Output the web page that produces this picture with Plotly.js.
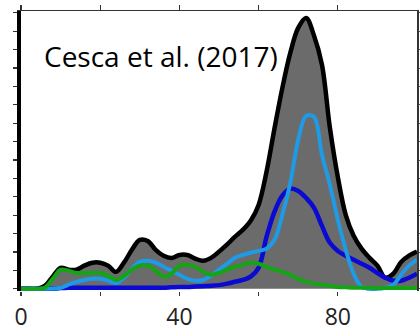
<!DOCTYPE html>
<html>
<head>
<meta charset="utf-8">
<script src="https://cdn.plot.ly/plotly-3.0.1.min.js"></script>
<style>
  html, body { margin: 0; padding: 0; background: #fff; }
  #chart { width: 420px; height: 331px; }
</style>
</head>
<body>
<div id="chart"></div>
<script>
// Sample positions along the horizontal axis
const xs = [0,2,4,6,8,10,12,14,16,18,20,22,24,26,28,30,32,34,36,38,40,42,44,46,48,50,
            52,54,56,58,60,62,64,66,68,70,72,74,76,78,80,82,84,86,88,90,92,94,96,98,100];

// Total (grey filled envelope)
const total = [0,0,0,0.8,3.3,5.7,5.2,5.2,6.3,7.1,7.1,6.3,4.6,7.1,10.6,13.3,13.0,10.6,9.0,8.4,9.2,9.2,8.2,7.6,8.4,10.1,
               12.0,14.1,16.0,18.5,22.8,31.8,43.5,54.6,64.1,70.9,73.6,68.8,60.9,43.8,30.4,20.1,14.4,10.9,8.4,6.3,3.0,4.1,7.3,9.0,10.1];

// Light blue component
const lightBlue = [0,0,0,0,0,0.3,1.1,1.9,2.4,2.7,2.7,2.2,1.6,3.0,5.4,7.3,7.6,7.1,6.0,4.9,3.8,2.7,2.2,2.4,3.5,5.2,
                   6.8,8.4,9.2,9.8,10.3,10.9,13.3,20.1,28.8,40.5,47.0,46.7,36.4,28.3,18.8,10.6,4.1,0.5,0,0,0.3,1.1,3.8,6.3,7.9];

// Dark blue component
const darkBlue = [0,0,0,0,0,0.2,0.3,0.3,0.3,0.3,0.3,0.3,0.3,0.3,0.3,0.3,0.3,0.3,0.3,0.4,0.5,0.5,0.6,0.7,0.8,1.0,
                  1.4,1.9,2.4,3.3,5.7,14.1,20.9,25.3,27.2,26.6,24.7,22.0,17.1,12.5,10.3,9.0,7.9,6.8,5.7,4.3,3.0,2.2,2.2,3.0,4.1];

// Green component
const green = [0,0,0,0.3,2.7,5.2,4.9,4.3,4.3,4.3,4.3,3.5,2.4,3.5,5.2,6.3,6.3,4.9,3.3,4.1,6.3,6.5,6.0,4.6,3.8,4.3,
               5.2,6.0,6.5,7.1,6.8,6.0,5.2,4.6,3.8,2.7,1.9,1.4,1.1,0.8,0.5,0.4,0.3,0.3,0.3,0.2,0.2,0.2,0.2,0.2,0.2];

const xTicks = [0,20,40,60,80];
const xTickText = ['0','','40','','80'];
const yRange = [-0.6, 75.5];

const traces = [
  { x: xs, y: total, type: 'scatter', mode: 'lines', fill: 'tozeroy',
    fillcolor: '#6b6b6b', line: { color: '#000000', width: 4.5, shape: 'spline', smoothing: 1 },
    hoverinfo: 'skip' },
  { x: xs, y: darkBlue, type: 'scatter', mode: 'lines',
    line: { color: '#0a0ad2', width: 4.5, shape: 'spline', smoothing: 1 }, hoverinfo: 'skip' },
  { x: xs, y: lightBlue, type: 'scatter', mode: 'lines',
    line: { color: '#1e9be6', width: 4, shape: 'spline', smoothing: 1 }, hoverinfo: 'skip' },
  { x: xs, y: green, type: 'scatter', mode: 'lines',
    line: { color: '#14a514', width: 4, shape: 'spline', smoothing: 1 }, hoverinfo: 'skip' },
  // invisible helper so the top axis is drawn
  { x: [0], y: [0], xaxis: 'x2', yaxis: 'y2', mode: 'markers', marker: { opacity: 0 }, hoverinfo: 'skip', showlegend: false }
];

const layout = {
  width: 420, height: 331,
  margin: { l: 21, r: 3, t: 11, b: 40 },
  paper_bgcolor: '#ffffff', plot_bgcolor: '#ffffff',
  showlegend: false,
  font: { family: 'Open Sans, Noto Sans, sans-serif', color: '#000' },
  xaxis: {
    range: [0, 100], tickmode: 'array', tickvals: xTicks, ticktext: xTickText,
    ticks: 'outside', ticklen: 4, tickwidth: 1.2, tickcolor: '#333', ticklabelstandoff: 1,
    showgrid: false, zeroline: false, showline: false,
    tickfont: { size: 23, color: '#222', family: 'Open Sans, sans-serif' }
  },
  xaxis2: {
    overlaying: 'x', side: 'top', range: [0, 100], tickmode: 'array', tickvals: xTicks,
    showticklabels: false, ticks: 'outside', ticklen: 5, tickwidth: 1.2, tickcolor: '#333',
    showgrid: false, zeroline: false, showline: true, linecolor: '#333', linewidth: 1.5
  },
  yaxis: {
    range: yRange, dtick: 5, tick0: 0, showticklabels: false,
    ticks: 'outside', ticklen: 4, tickwidth: 1.2, tickcolor: '#333',
    showgrid: false, zeroline: false, showline: true, linecolor: '#000', linewidth: 4
  },
  yaxis2: {
    overlaying: 'y', side: 'right', range: yRange, dtick: 5, tick0: 0,
    showticklabels: false, ticks: 'outside', ticklen: 3, tickwidth: 1, tickcolor: '#555',
    showgrid: false, zeroline: false, showline: true, linecolor: '#333', linewidth: 1.5
  },
  annotations: [{
    text: 'Cesca et al. (2017)', x: 5.2, y: 63.3, xref: 'x', yref: 'y',
    xanchor: 'left', yanchor: 'middle', showarrow: false,
    font: { size: 28, color: '#000', family: 'Open Sans, sans-serif' }
  }]
};

Plotly.newPlot('chart', traces, layout, { staticPlot: true, displayModeBar: false });
</script>
</body>
</html>
